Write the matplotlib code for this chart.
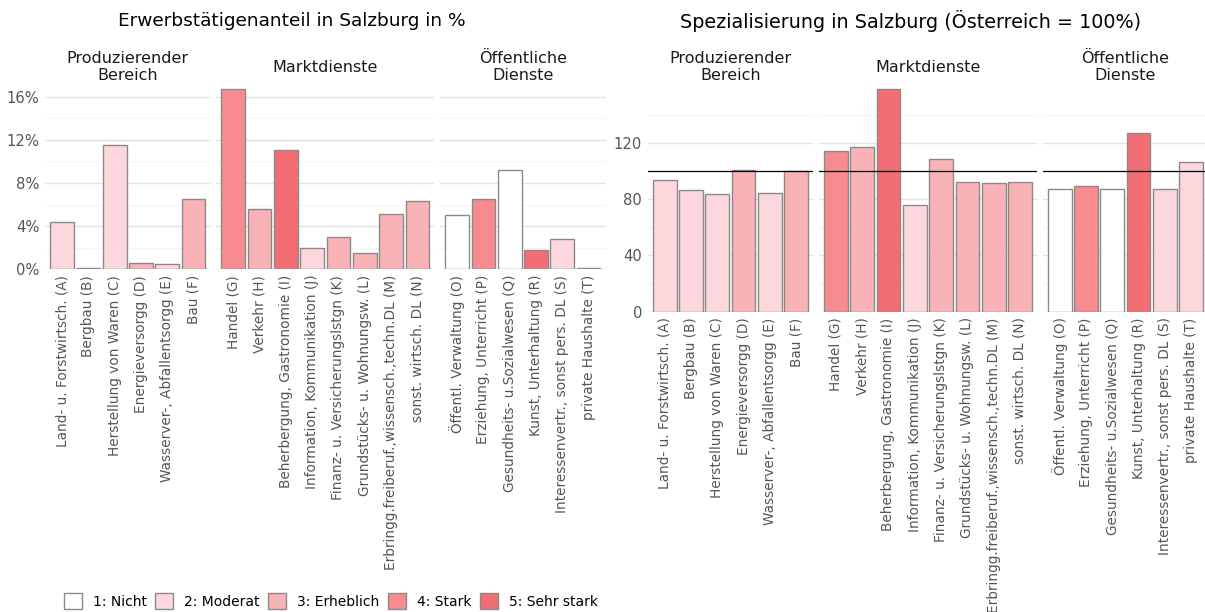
import matplotlib.pyplot as plt
import numpy as np
from matplotlib.patches import Patch

plt.rcParams['font.family'] = ['DejaVu Sans']

# sectors and groups
gruppen = ["Produzierender\nBereich", "Marktdienste", "Öffentliche\nDienste"]
gruppen_anzahl = [6, 8, 6]

branchen = [
    "Land- u. Forstwirtsch. (A)", "Bergbau (B)", "Herstellung von Waren (C)",
    "Energieversorgg (D)", "Wasserver-, Abfallentsorgg (E)", "Bau (F)",
    "Handel (G)", "Verkehr (H)", "Beherbergung, Gastronomie (I)",
    "Information, Kommunikation (J)", "Finanz- u. Versicherungslstgn (K)",
    "Grundstücks- u. Wohnungsw. (L)", "Erbringg.freiberuf.,wissensch.,techn.DL (M)",
    "sonst. wirtsch. DL (N)",
    "Öffentl. Verwaltung (O)", "Erziehung, Unterricht (P)", "Gesundheits- u.Sozialwesen (Q)",
    "Kunst, Unterhaltung (R)", "Interessenvertr., sonst pers. DL (S)", "private Haushalte (T)",
]

# employment share in %
anteil = [4.4, 0.15, 11.5, 0.6, 0.45, 6.5,
          16.7, 5.6, 11.05, 2.0, 3.0, 1.52, 5.08, 6.3,
          5.0, 6.5, 9.2, 1.8, 2.8, 0.1]

# specialisation, Austria = 100
spezialisierung = [93.5, 86.6, 83.3, 100.4, 84.5, 99.6,
                   114.3, 116.9, 157.9, 75.7, 108.4, 92.3, 91.6, 92.3,
                   86.9, 89.5, 87.3, 127.1, 87.1, 106.5]

# specialisation class 1..5
stufe = [2, 2, 2, 3, 2, 3,
         4, 3, 5, 2, 3, 3, 3, 3,
         1, 4, 1, 5, 2, 2]

stufen_labels = ["1: Nicht", "2: Moderat", "3: Erheblich", "4: Stark", "5: Sehr stark"]
stufen_farben = ["#FFFFFF", "#FCD8DC", "#F9B3B6", "#F78B8F", "#F26D74"]

W, H = 1205, 612
PX_UNIT = 26.3
GAP = 5.5
KANTE = "#8a8a8a"
TICKFARBE = "#555555"


def draw_chart(fig, x0, y_bottom, y_top, values, ymax, major, minor, fmt, refline=None):
    start = 0
    x = x0
    for g, n in enumerate(gruppen_anzahl):
        breite = (n + 0.3) * PX_UNIT
        ax = fig.add_axes([x / W, (H - y_bottom) / H, breite / W, (y_bottom - y_top) / H])
        vals = values[start:start + n]
        cols = [stufen_farben[s - 1] for s in stufe[start:start + n]]
        pos = np.arange(1, n + 1)
        ax.bar(pos, vals, width=0.9, color=cols, edgecolor=KANTE, linewidth=1.0, zorder=3)
        if refline is not None:
            ax.axhline(refline, color="black", linewidth=0.9, zorder=4)
        ax.set_xlim(0.35, n + 0.65)
        ax.set_ylim(0, ymax)
        ax.set_yticks(major)
        ax.set_yticks(minor, minor=True)
        ax.grid(axis="y", which="major", color="#e3e3e3", linewidth=1.0, zorder=0)
        ax.grid(axis="y", which="minor", color="#f4f4f4", linewidth=0.8, zorder=0)
        ax.set_xticks(pos)
        ax.set_xticklabels(branchen[start:start + n], rotation=90, fontsize=9.8,
                           color=TICKFARBE)
        ax.tick_params(axis="both", which="both", length=0, pad=4)
        if g == 0:
            ax.set_yticklabels([fmt(v) for v in major], fontsize=10.6, color=TICKFARBE)
        else:
            ax.set_yticklabels([])
        for s in ax.spines.values():
            s.set_visible(False)
        fig.text((x + breite / 2) / W, (H - 67) / H, gruppen[g], ha="center", va="center",
                 fontsize=11.5, color="#1a1a1a", linespacing=1.2)
        start += n
        x += breite + GAP


fig = plt.figure(figsize=(W / 100, H / 100), dpi=100)

draw_chart(fig, 45, 269.3, 80.5, anteil, 17.5, [0, 4, 8, 12, 16], [2, 6, 10, 14],
           lambda v: f"{v}%")
draw_chart(fig, 647.6, 311.7, 79.7, spezialisierung, 164.8, [0, 40, 80, 120],
           [20, 60, 100, 140], lambda v: f"{v}", refline=100)

fig.text(292 / W, (H - 21) / H, "Erwerbstätigenanteil in Salzburg in %", ha="center",
         va="center", fontsize=13.3, color="black")
fig.text(911 / W, (H - 21) / H, "Spezialisierung in Salzburg (Österreich = 100%)",
         ha="center", va="center", fontsize=13.8, color="black")

handles = [Patch(facecolor=c, edgecolor=KANTE, linewidth=1.0) for c in stufen_farben]
fig.legend(handles, stufen_labels, loc="center", bbox_to_anchor=(331 / W, (H - 601) / H),
           ncol=5, frameon=False, fontsize=10, handlelength=1.3, handleheight=1.3,
           handletextpad=0.8, columnspacing=0.6, labelcolor="black")

fig.savefig("out.png", dpi=100)
